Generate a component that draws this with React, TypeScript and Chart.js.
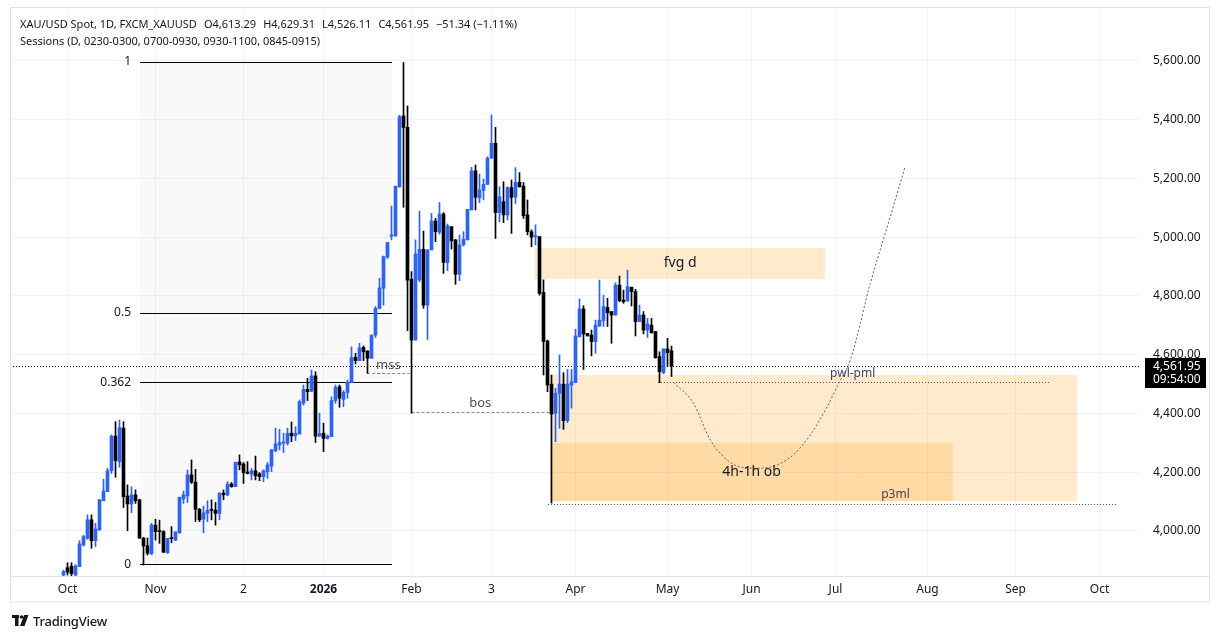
import React, { useEffect, useRef } from 'react';
import { Chart, registerables } from 'chart.js';

Chart.register(...registerables);

const FONT = '"Noto Sans", "Open Sans", sans-serif';
const UP = '#2962ff';
const DOWN = '#000000';
const TEXT = '#131722';

// ---- daily candles (bar index 0 = early Oct 2025) ----
const opens = [
  3850, 3875, 3880, 3850, 3879, 3952, 3975, 4038, 3967, 4004,
  4103, 4134, 4205, 4323, 4236, 4350, 4119, 4092, 4123, 4106,
  3976, 3950, 3922, 4020, 4000, 3998, 3926, 3977, 3969, 3994,
  4109, 4119, 4191, 4166, 4074, 4040, 4060, 4072, 4071, 4060,
  4129, 4123, 4160, 4151, 4235, 4228, 4201, 4194, 4205, 4194,
  4185, 4202, 4221, 4273, 4293, 4299, 4299, 4333, 4324, 4330,
  4435, 4482, 4476, 4528, 4323, 4332, 4315, 4321, 4444, 4491,
  4448, 4472, 4505, 4591, 4580, 4625, 4613, 4588, 4667, 4758,
  4826, 4932, 5004, 5004, 5172, 5413, 5374, 4857, 4650, 4855,
  4959, 4769, 4957, 5055, 5017, 5079, 4914, 5036, 4991, 4874,
  4974, 4991, 5093, 5226, 5134, 5159, 5180, 5269, 5320, 5084,
  5121, 5076, 5169, 5136, 5187, 5174, 5076, 5019, 5002, 5002,
  4812, 4647, 4500, 4401, 4469, 4500, 4376, 4497, 4505, 4661,
  4756, 4673, 4667, 4645, 4698, 4716, 4761, 4747, 4735, 4837,
  4786, 4784, 4830, 4815, 4713, 4735, 4684, 4701, 4679, 4594,
  4539, 4620, 4613.29,
];
const highs = [
  3867, 3892, 3892, 3885, 3967, 3986, 4055, 4055, 4026, 4108,
  4176, 4213, 4327, 4372, 4378, 4372, 4157, 4151, 4140, 4108,
  3978, 3976, 4026, 4040, 4037, 4001, 3975, 4015, 3997, 4115,
  4136, 4208, 4242, 4210, 4077, 4085, 4103, 4106, 4097, 4131,
  4140, 4168, 4165, 4234, 4259, 4233, 4236, 4213, 4255, 4199,
  4208, 4233, 4278, 4350, 4346, 4333, 4350, 4371, 4355, 4446,
  4497, 4520, 4548, 4542, 4401, 4367, 4327, 4457, 4497, 4497,
  4478, 4514, 4627, 4605, 4639, 4630, 4613, 4667, 4764, 4860,
  4936, 4982, 5106, 5174, 5415, 5595, 5447, 4883, 4991, 5089,
  5021, 4957, 5081, 5064, 5118, 5084, 5045, 5036, 4993, 5008,
  5019, 5095, 5238, 5246, 5215, 5198, 5274, 5416, 5374, 5172,
  5189, 5172, 5195, 5237, 5220, 5186, 5127, 5025, 5042, 5002,
  4855, 4650, 4531, 4486, 4599, 4539, 4550, 4550, 4687, 4790,
  4767, 4673, 4684, 4718, 4854, 4803, 4792, 4747, 4845, 4868,
  4820, 4888, 4830, 4823, 4769, 4747, 4724, 4724, 4679, 4610,
  4620, 4656, 4629.31,
];
const lows = [
  3845, 3850, 3848, 3845, 3879, 3949, 3972, 3941, 3947, 4002,
  4103, 4134, 4196, 4183, 4217, 4080, 4001, 4062, 4094, 3974,
  3884, 3918, 3920, 3969, 3958, 3926, 3924, 3960, 3967, 3992,
  4094, 4097, 4162, 4032, 4032, 3994, 4032, 4038, 4020, 4038,
  4106, 4120, 4149, 4151, 4208, 4162, 4194, 4174, 4174, 4171,
  4168, 4179, 4202, 4270, 4276, 4267, 4293, 4304, 4308, 4330,
  4429, 4444, 4474, 4301, 4321, 4270, 4313, 4321, 4435, 4421,
  4423, 4452, 4505, 4569, 4580, 4580, 4537, 4588, 4659, 4756,
  4769, 4928, 4991, 5004, 5170, 5102, 4682, 4401, 4650, 4849,
  4758, 4652, 4957, 4985, 5011, 4877, 4886, 4960, 4840, 4852,
  4970, 4991, 5093, 5093, 5118, 5127, 5180, 5269, 4996, 5053,
  5050, 5059, 5013, 5115, 5170, 5064, 5008, 4968, 4974, 4803,
  4531, 4474, 4095, 4304, 4350, 4346, 4369, 4418, 4505, 4661,
  4550, 4664, 4596, 4605, 4696, 4696, 4696, 4639, 4735, 4781,
  4775, 4781, 4766, 4664, 4713, 4671, 4659, 4673, 4588, 4505,
  4535, 4560, 4526.11,
];
const closes = [
  3862, 3860, 3855, 3881, 3956, 3981, 4038, 3967, 4007, 4106,
  4136, 4205, 4323, 4240, 4352, 4117, 4092, 4123, 4103, 3976,
  3949, 3924, 4020, 3998, 3998, 3928, 3975, 3974, 3997, 4115,
  4123, 4191, 4166, 4074, 4038, 4062, 4071, 4070, 4060, 4128,
  4123, 4160, 4151, 4234, 4225, 4199, 4196, 4205, 4188, 4185,
  4205, 4225, 4276, 4296, 4301, 4301, 4333, 4324, 4333, 4440,
  4482, 4474, 4528, 4323, 4332, 4315, 4323, 4444, 4489, 4452,
  4472, 4506, 4591, 4580, 4623, 4610, 4588, 4667, 4758, 4828,
  4934, 4982, 5008, 5174, 5410, 5374, 4854, 4650, 4943, 4959,
  4769, 4957, 5055, 5019, 5079, 4914, 5039, 4988, 4874, 4974,
  4993, 5095, 5226, 5136, 5161, 5180, 5269, 5320, 5084, 5138,
  5076, 5169, 5136, 5187, 5172, 5073, 5019, 5000, 5005, 4809,
  4645, 4497, 4398, 4469, 4500, 4376, 4500, 4508, 4664, 4756,
  4671, 4664, 4645, 4701, 4718, 4764, 4743, 4735, 4837, 4784,
  4781, 4832, 4815, 4713, 4735, 4684, 4705, 4675, 4590, 4542,
  4620, 4607, 4561.95,
];

// ---- axes ----
const monthTickIndex = [1, 23, 45, 65, 87, 107, 128, 151, 172, 193, 216, 238, 259];
const monthTickLabels = ['Oct', 'Nov', '2', '2026', 'Feb', '3', 'Apr', 'May', 'Jun', 'Jul', 'Aug', 'Sep', 'Oct'];
const priceTicks = [4000, 4200, 4400, 4600, 4800, 5000, 5200, 5400, 5600];
const xRange = [-13.375, 269.125];
const yRange = [3846.8, 5780.4];

// ---- drawings ----
const fibLevels = [1, 0.5, 0.362, 0];
const fibLabels = ['1', '0.5', '0.362', '0'];
const fibPrices = [3886, 5598];
const fibSpan = [19, 82];

const projectionIndex = [152.5, 157.5, 161.7, 165.9, 169.9, 174.2, 178.4, 182.4, 186.7, 190.9, 193.8, 196.7, 201.7, 206.7, 210.4];
const projectionPrice = [4506, 4435, 4310, 4242, 4216, 4214, 4225, 4259, 4327, 4423, 4503, 4582, 4843, 5070, 5240];

const fvgZone = [117.9, 190.4, 4859, 4964];
const demandZone = [121.6, 253.4, 4102, 4531];
const obZone = [121.6, 222.4, 4102, 4300];

const mssLine = [75.9, 86.6, 4537];
const bosLine = [87, 121.7, 4404];
const pwlLine = [148.6, 246.6, 4506];
const p3mlLine = [121.1, 263.4, 4092];
const lineTextIndex = [81.2, 104.2, 197.3, 208];
const lineTexts = ['mss', 'bos', 'pwl-pml', 'p3ml'];

const lastPrice = closes[closes.length - 1];
const lastTime = '09:54:00';

const fmt = (v: number) =>
  v.toLocaleString('en-US', { minimumFractionDigits: 2, maximumFractionDigits: 2 });

const overlayPlugin = {
  id: 'overlays',
  beforeDatasetsDraw(chart: any) {
    const { ctx, chartArea: a, scales } = chart;
    const X = (v: number) => scales.x.getPixelForValue(v);
    const Y = (v: number) => scales.y.getPixelForValue(v);
    ctx.save();
    ctx.beginPath();
    ctx.rect(a.left, a.top, a.right - a.left, a.bottom - a.top);
    ctx.clip();

    // fib background
    const fx0 = Math.round(X(fibSpan[0]));
    const fx1 = Math.round(X(fibSpan[1]));
    const fibY = fibLevels.map((l) => Y(fibPrices[0] + l * (fibPrices[1] - fibPrices[0])));
    const fTop = Math.min(...fibY);
    const fBot = Math.max(...fibY);
    ctx.fillStyle = 'rgba(120,123,134,0.045)';
    ctx.fillRect(fx0, fTop, fx1 - fx0, fBot - fTop);

    // zones
    const zone = (z: number[]) => {
      const x0 = Math.round(X(z[0]));
      const x1 = Math.round(X(z[1]));
      const y0 = Math.round(Y(z[3]));
      const y1 = Math.round(Y(z[2]));
      ctx.fillRect(x0, y0, x1 - x0, y1 - y0);
    };
    ctx.fillStyle = 'rgba(255,152,0,0.2)';
    zone(fvgZone);
    zone(demandZone);
    zone(obZone);

    // fib level lines
    ctx.strokeStyle = '#000000';
    ctx.lineWidth = 1;
    fibY.forEach((yy) => {
      const y = Math.round(yy) + 0.5;
      ctx.beginPath();
      ctx.moveTo(fx0, y);
      ctx.lineTo(fx1, y);
      ctx.stroke();
    });

    const hline = (l: number[], color: string, dash: number[]) => {
      const y = Math.round(Y(l[2])) + 0.5;
      ctx.strokeStyle = color;
      ctx.setLineDash(dash);
      ctx.beginPath();
      ctx.moveTo(X(l[0]), y);
      ctx.lineTo(X(l[1]), y);
      ctx.stroke();
    };
    hline(mssLine, '#8a8d96', [3, 2]);
    hline(bosLine, '#8a8d96', [3, 2]);
    hline(pwlLine, '#434651', [1, 2]);
    hline(p3mlLine, '#434651', [1, 2]);

    // last price line
    const ly = Math.round(Y(lastPrice)) + 0.5;
    ctx.strokeStyle = '#000000';
    ctx.setLineDash([1, 2]);
    ctx.beginPath();
    ctx.moveTo(a.left, ly);
    ctx.lineTo(a.right, ly);
    ctx.stroke();
    ctx.setLineDash([]);
    ctx.restore();
  },
  afterDatasetsDraw(chart: any) {
    const { ctx, scales } = chart;
    const X = (v: number) => scales.x.getPixelForValue(v);
    const Y = (v: number) => scales.y.getPixelForValue(v);
    ctx.save();
    // fib labels
    ctx.fillStyle = TEXT;
    ctx.font = `12px ${FONT}`;
    ctx.textAlign = 'right';
    ctx.textBaseline = 'middle';
    const fx0 = Math.round(X(fibSpan[0]));
    fibLevels.forEach((l, i) => {
      ctx.fillText(fibLabels[i], fx0 - 9, Y(fibPrices[0] + l * (fibPrices[1] - fibPrices[0])));
    });

    // zone labels
    ctx.textAlign = 'center';
    ctx.font = `14px ${FONT}`;
    ctx.fillStyle = TEXT;
    ctx.fillText('fvg d', X((fvgZone[0] + fvgZone[1]) / 2), Y((fvgZone[2] + fvgZone[3]) / 2));
    ctx.fillText('4h-1h ob', X((obZone[0] + obZone[1]) / 2), Y((obZone[2] + obZone[3]) / 2));

    // line labels
    ctx.textBaseline = 'alphabetic';
    const lines = [mssLine, bosLine, pwlLine, p3mlLine];
    const lift = [4, 5, 5, 6];
    const sizes = [13, 13, 12, 12];
    const colors = ['#50535e', '#50535e', '#434651', '#434651'];
    lines.forEach((l, i) => {
      ctx.font = `${sizes[i]}px ${FONT}`;
      ctx.fillStyle = colors[i];
      ctx.fillText(lineTexts[i], X(lineTextIndex[i]), Math.round(Y(l[2])) - lift[i]);
    });
    ctx.restore();
  },
  afterDraw(chart: any) {
    const { ctx, chartArea: a, scales } = chart;
    const Y = (v: number) => scales.y.getPixelForValue(v);
    ctx.save();
    // frame
    ctx.strokeStyle = '#e0e3eb';
    ctx.lineWidth = 1;
    ctx.strokeRect(a.left + 0.5, a.top - 0.5, 1199, a.bottom - a.top + 26 + 0.5);
    ctx.beginPath();
    ctx.moveTo(a.left, a.bottom + 0.5);
    ctx.lineTo(a.left + 1200, a.bottom + 0.5);
    ctx.stroke();

    // last price label
    const ly = Math.round(Y(lastPrice));
    ctx.fillStyle = '#000000';
    ctx.fillRect(a.right + 5, ly - 8, 61, 30);
    ctx.fillStyle = '#ffffff';
    ctx.font = `12px ${FONT}`;
    ctx.textAlign = 'left';
    ctx.textBaseline = 'middle';
    ctx.fillText(fmt(lastPrice), a.right + 13, ly + 0.5);
    ctx.fillText(lastTime, a.right + 13, ly + 13.5);
    ctx.restore();
  },
};

function CandleChart() {
  const ref = useRef<HTMLCanvasElement | null>(null);
  useEffect(() => {
    if (!ref.current) return;
    const idx = opens.map((_, i) => i);
    const colors = idx.map((i) => (closes[i] >= opens[i] ? UP : DOWN));
    const chart = new Chart(ref.current, {
      type: 'bar',
      data: {
        datasets: [
          {
            type: 'line',
            label: 'projection',
            data: projectionIndex.map((x, i) => ({ x, y: projectionPrice[i] })),
            borderColor: '#5d606b',
            borderWidth: 1,
            borderDash: [2, 2],
            pointRadius: 0,
            cubicInterpolationMode: 'monotone',
            order: 3,
          } as any,
          {
            label: 'body',
            data: idx.map((i) => ({ x: i, y: [opens[i], closes[i]] })),
            backgroundColor: colors,
            borderWidth: 0,
            barThickness: 3,
            minBarLength: 1,
            grouped: false,
            order: 0,
          } as any,
          {
            label: 'wick',
            data: idx.map((i) => ({ x: i, y: [lows[i], highs[i]] })),
            backgroundColor: colors,
            borderWidth: 0,
            barThickness: 1,
            grouped: false,
            order: 1,
          } as any,
        ],
      },
      options: {
        animation: false,
        responsive: true,
        maintainAspectRatio: false,
        devicePixelRatio: 1,
        layout: { padding: { left: 10, top: 8, right: 9, bottom: 36 } },
        plugins: { legend: { display: false }, tooltip: { enabled: false } },
        scales: {
          x: {
            type: 'linear',
            min: xRange[0],
            max: xRange[1],
            offset: false,
            afterBuildTicks: (axis: any) => {
              axis.ticks = monthTickIndex.map((v) => ({ value: v }));
            },
            afterFit: (axis: any) => {
              axis.height = 26;
              axis.paddingLeft = 0;
              axis.paddingRight = 0;
            },
            grid: { color: '#f0f3fa', drawTicks: false, offset: false },
            border: { display: false },
            ticks: {
              autoSkip: false,
              maxRotation: 0,
              minRotation: 0,
              padding: 6,
              color: TEXT,
              font: (c: any) => ({ family: FONT, size: 12, weight: c.index === 3 ? 'bold' : 'normal' }),
              callback: (_v: any, i: number) => monthTickLabels[i] ?? '',
            },
          },
          y: {
            type: 'linear',
            position: 'right',
            min: yRange[0],
            max: yRange[1],
            afterBuildTicks: (axis: any) => {
              axis.ticks = priceTicks.map((v) => ({ value: v }));
            },
            afterFit: (axis: any) => {
              axis.width = 70;
              axis.paddingTop = 0;
              axis.paddingBottom = 0;
            },
            grid: { color: '#f0f3fa', drawTicks: false },
            border: { display: false },
            ticks: {
              padding: 13,
              color: TEXT,
              font: { family: FONT, size: 12 },
              callback: (v: any) => fmt(Number(v)),
            },
          },
        },
      } as any,
      plugins: [overlayPlugin],
    });
    return () => chart.destroy();
  }, []);
  return <canvas ref={ref} />;
}

export default function App() {
  const hdr: React.CSSProperties = {
    position: 'absolute',
    left: 20,
    font: `11px ${FONT}`,
    color: TEXT,
    whiteSpace: 'pre',
    lineHeight: '14px',
  };
  const gap = { marginLeft: 7 };
  return (
    <div style={{ position: 'absolute', left: 0, top: 0, width: 1219, height: 638, background: '#ffffff' }}>
      <CandleChart />
      <div style={{ ...hdr, top: 17 }}>
        <span>XAU/USD Spot, 1D, FXCM_XAUUSD</span>
        <span style={gap}>O4,613.29</span>
        <span style={gap}>H4,629.31</span>
        <span style={gap}>L4,526.11</span>
        <span style={gap}>C4,561.95</span>
        <span style={gap}>−51.34 (−1.11%)</span>
      </div>
      <div style={{ ...hdr, top: 34 }}>Sessions (D, 0230-0300, 0700-0930, 0930-1100, 0845-0915)</div>
      <div style={{ position: 'absolute', left: 12, top: 612, display: 'flex', alignItems: 'center' }}>
        <svg width="18" height="12" viewBox="0 0 18 12">
          <rect x="0" y="0" width="7" height="3" fill="#131722" />
          <rect x="3" y="0" width="3.5" height="11" fill="#131722" />
          <circle cx="9.5" cy="2" r="1.8" fill="#131722" />
          <polygon points="12,0 16.5,0 12.5,11 8,11" fill="#131722" />
        </svg>
        <span style={{ marginLeft: 3, font: `500 13px ${FONT}`, color: TEXT, letterSpacing: -0.2 }}>TradingView</span>
      </div>
    </div>
  );
}
